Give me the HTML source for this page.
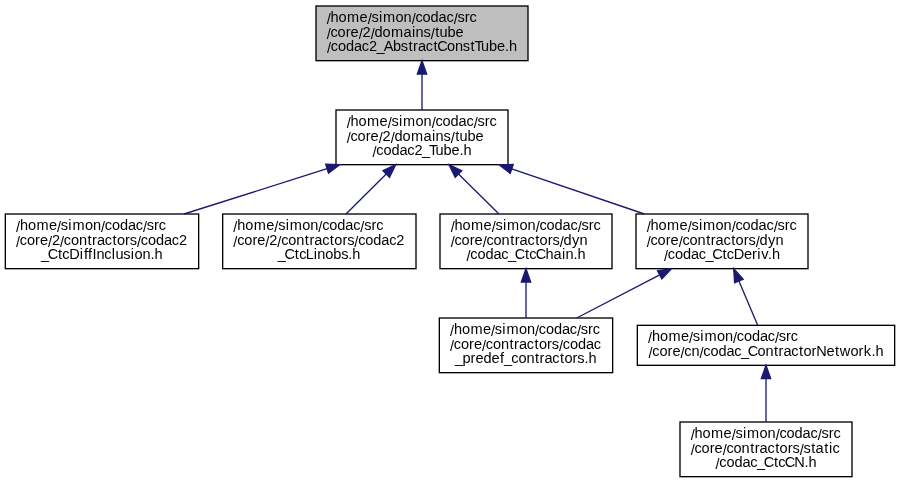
<!DOCTYPE html>
<html><head><meta charset="utf-8"><title>Include dependency graph</title>
<style>
html,body{margin:0;padding:0;background:#ffffff;}
body{width:900px;height:483px;overflow:hidden;font-family:"Liberation Sans",sans-serif;}
svg{display:block;}
</style></head><body>
<svg width="900" height="483" viewBox="0 0 900 483">
<rect x="0" y="0" width="900" height="483" fill="#ffffff"/>
<g stroke="#000000" stroke-width="1.3333">
<rect x="316.00" y="6.00" width="212.00" height="54.67" fill="#bfbfbf"/>
<rect x="336.00" y="110.00" width="172.00" height="54.67" fill="#ffffff"/>
<rect x="5.33" y="214.00" width="193.33" height="54.67" fill="#ffffff"/>
<rect x="222.67" y="214.00" width="193.33" height="54.67" fill="#ffffff"/>
<rect x="440.00" y="214.00" width="172.00" height="54.67" fill="#ffffff"/>
<rect x="636.00" y="214.00" width="172.00" height="54.67" fill="#ffffff"/>
<rect x="439.33" y="318.00" width="173.33" height="54.67" fill="#ffffff"/>
<rect x="637.33" y="325.33" width="257.33" height="40.00" fill="#ffffff"/>
<rect x="680.00" y="422.00" width="172.00" height="54.67" fill="#ffffff"/>
</g>
<g stroke="#191970" stroke-width="1.3333" fill="#191970">
<path fill="none" d="M422.00,110.00L422.00,74.00"/>
<polygon points="422.00,60.67 417.33,74.00 426.67,74.00"/>
<path fill="none" d="M184.00,214.00L327.09,168.69"/>
<polygon points="339.80,164.67 325.68,164.25 328.50,173.14"/>
<path fill="none" d="M346.00,214.00L386.24,174.06"/>
<polygon points="395.70,164.67 382.95,170.75 389.52,177.37"/>
<path fill="none" d="M499.00,214.00L458.49,174.03"/>
<polygon points="449.00,164.67 455.21,177.36 461.77,170.71"/>
<path fill="none" d="M644.40,214.00L511.73,168.96"/>
<polygon points="499.10,164.67 510.23,173.38 513.23,164.54"/>
<path fill="none" d="M526.00,318.00L526.00,282.00"/>
<polygon points="526.00,268.67 521.33,282.00 530.67,282.00"/>
<path fill="none" d="M576.70,318.00L659.67,274.82"/>
<polygon points="671.50,268.67 657.52,270.68 661.83,278.96"/>
<path fill="none" d="M757.70,325.33L738.90,280.95"/>
<polygon points="733.70,268.67 734.60,282.77 743.20,279.13"/>
<path fill="none" d="M766.00,422.00L766.00,378.66"/>
<polygon points="766.00,365.33 761.33,378.66 770.67,378.66"/>
</g>
<g font-family="'Liberation Sans', sans-serif" font-size="14.0" fill="#000000" opacity="0.999">
<text transform="translate(326.67,22.00) scale(1.04,1)" x="-0.02 3.80 11.49 19.65 31.68 39.40 43.13 50.37 54.27 66.30 73.99 81.71 85.44 92.26 99.95 107.65 115.25 122.09 125.83 132.77 137.37" y="2 0 0 0 0 2 0 0 0 0 0 2 0 0 0 0 0 2 0 0 0">/home/simon/codac/src</text>
<text transform="translate(326.67,36.67) scale(1.04,1)" x="-0.02 3.71 10.53 18.34 23.03 30.75 34.57 42.28 46.11 53.80 61.96 73.99 82.10 85.53 93.13 99.98 104.30 108.61 116.30 123.99" y="2 0 0 0 0 2 0 2 0 0 0 0 0 0 0 2 0 0 0 0">/core/2/domains/tube</text>
<text transform="translate(327.00,51.33) scale(1.04,1)" x="-0.02 3.71 10.53 18.22 25.92 33.52 40.34 47.55 54.47 63.42 71.02 78.34 82.77 87.45 95.06 102.38 106.00 115.34 123.03 130.63 137.96 141.88 148.03 155.72 163.42 171.13 174.95" y="2 0 0 0 0 0 0 0 0 0 0 0 0 0 0 0 0 0 0 0 0 0 0 0 0 0 0">/codac2_AbstractConstTube.h</text>
<text transform="translate(346.67,126.00) scale(1.04,1)" x="-0.02 3.80 11.49 19.65 31.68 39.40 43.13 50.37 54.27 66.30 73.99 81.71 85.44 92.26 99.95 107.65 115.25 122.09 125.83 132.77 137.37" y="2 0 0 0 0 2 0 0 0 0 0 2 0 0 0 0 0 2 0 0 0">/home/simon/codac/src</text>
<text transform="translate(346.67,140.67) scale(1.04,1)" x="-0.02 3.71 10.53 18.34 23.03 30.75 34.57 42.28 46.11 53.80 61.96 73.99 82.10 85.53 93.13 99.98 104.30 108.61 116.30 123.99" y="2 0 0 0 0 2 0 2 0 0 0 0 0 0 0 2 0 0 0 0">/core/2/domains/tube</text>
<text transform="translate(372.50,155.33) scale(1.04,1)" x="-0.02 3.71 10.53 18.22 25.92 33.52 40.34 47.55 54.38 60.53 68.22 75.92 83.63 87.45" y="2 0 0 0 0 0 0 0 0 0 0 0 0 0">/codac2_Tube.h</text>
<text transform="translate(16.00,230.00) scale(1.04,1)" x="-0.02 3.80 11.49 19.65 31.68 39.40 43.13 50.37 54.27 66.30 73.99 81.71 85.44 92.26 99.95 107.65 115.25 122.09 125.83 132.77 137.37" y="2 0 0 0 0 2 0 0 0 0 0 2 0 0 0 0 0 2 0 0 0">/home/simon/codac/src</text>
<text transform="translate(16.00,244.67) scale(1.04,1)" x="-0.02 3.71 10.53 18.34 23.03 30.75 34.57 42.28 46.02 52.84 60.53 68.73 73.15 77.84 85.44 92.77 97.07 104.88 109.48 116.32 120.06 126.88 134.57 142.26 149.87 156.68" y="2 0 0 0 0 2 0 2 0 0 0 0 0 0 0 0 0 0 0 2 0 0 0 0 0 0">/core/2/contractors/codac2</text>
<text transform="translate(41.50,259.33) scale(1.04,1)" x="-0.53 6.00 15.84 20.06 26.68 36.91 40.84 44.69 49.02 52.84 60.44 67.68 71.11 78.71 85.95 89.38 97.07 104.78 108.61" y="0 0 0 0 0 0 0 0 0 0 0 0 0 0 0 0 0 0 0">_CtcDiffInclusion.h</text>
<text transform="translate(233.33,230.00) scale(1.04,1)" x="-0.02 3.80 11.49 19.65 31.68 39.40 43.13 50.37 54.27 66.30 73.99 81.71 85.44 92.26 99.95 107.65 115.25 122.09 125.83 132.77 137.37" y="2 0 0 0 0 2 0 0 0 0 0 2 0 0 0 0 0 2 0 0 0">/home/simon/codac/src</text>
<text transform="translate(233.33,244.67) scale(1.04,1)" x="-0.02 3.71 10.53 18.34 23.03 30.75 34.57 42.28 46.02 52.84 60.53 68.73 73.15 77.84 85.44 92.77 97.07 104.88 109.48 116.32 120.06 126.88 134.57 142.26 149.87 156.68" y="2 0 0 0 0 2 0 2 0 0 0 0 0 0 0 0 0 0 0 2 0 0 0 0 0 0">/core/2/contractors/codac2</text>
<text transform="translate(278.33,259.33) scale(1.04,1)" x="-0.53 6.00 15.84 20.06 26.40 34.02 37.45 45.15 52.84 60.44 67.28 71.11" y="0 0 0 0 0 0 0 0 0 0 0 0">_CtcLinobs.h</text>
<text transform="translate(450.67,230.00) scale(1.04,1)" x="-0.02 3.80 11.49 19.65 31.68 39.40 43.13 50.37 54.27 66.30 73.99 81.71 85.44 92.26 99.95 107.65 115.25 122.09 125.83 132.77 137.37" y="2 0 0 0 0 2 0 0 0 0 0 2 0 0 0 0 0 2 0 0 0">/home/simon/codac/src</text>
<text transform="translate(450.67,244.67) scale(1.04,1)" x="-0.02 3.71 10.53 18.34 23.03 30.75 34.48 41.30 48.99 57.19 61.61 66.30 73.90 81.23 85.53 93.34 97.94 104.78 108.61 116.69 123.99" y="2 0 0 0 0 2 0 0 0 0 0 0 0 0 0 0 0 2 0 0 0">/core/contractors/dyn</text>
<text transform="translate(466.50,259.33) scale(1.04,1)" x="-0.02 3.71 10.53 18.22 25.92 33.52 39.86 46.39 56.23 60.44 66.58 75.92 83.61 91.72 95.15 102.86 106.68" y="2 0 0 0 0 0 0 0 0 0 0 0 0 0 0 0 0">/codac_CtcChain.h</text>
<text transform="translate(646.67,230.00) scale(1.04,1)" x="-0.02 3.80 11.49 19.65 31.68 39.40 43.13 50.37 54.27 66.30 73.99 81.71 85.44 92.26 99.95 107.65 115.25 122.09 125.83 132.77 137.37" y="2 0 0 0 0 2 0 0 0 0 0 2 0 0 0 0 0 2 0 0 0">/home/simon/codac/src</text>
<text transform="translate(646.67,244.67) scale(1.04,1)" x="-0.02 3.71 10.53 18.34 23.03 30.75 34.48 41.30 48.99 57.19 61.61 66.30 73.90 81.23 85.53 93.34 97.94 104.78 108.61 116.69 123.99" y="2 0 0 0 0 2 0 0 0 0 0 0 0 0 0 0 0 2 0 0 0">/core/contractors/dyn</text>
<text transform="translate(664.00,259.33) scale(1.04,1)" x="-0.02 3.71 10.53 18.22 25.92 33.52 39.86 46.39 56.23 60.44 67.06 76.88 84.69 89.79 93.62 99.98 103.80" y="2 0 0 0 0 0 0 0 0 0 0 0 0 0 0 0 0">/codac_CtcDeriv.h</text>
<text transform="translate(450.00,334.00) scale(1.04,1)" x="-0.02 3.80 11.49 19.65 31.68 39.40 43.13 50.37 54.27 66.30 73.99 81.71 85.44 92.26 99.95 107.65 115.25 122.09 125.83 132.77 137.37" y="2 0 0 0 0 2 0 0 0 0 0 2 0 0 0 0 0 2 0 0 0">/home/simon/codac/src</text>
<text transform="translate(450.00,348.67) scale(1.04,1)" x="-0.02 3.71 10.53 18.34 23.03 30.75 34.48 41.30 48.99 57.19 61.61 66.30 73.90 81.23 85.53 93.34 97.94 104.78 108.52 115.34 123.03 130.72 138.33" y="2 0 0 0 0 2 0 0 0 0 0 0 0 0 0 0 0 2 0 0 0 0 0">/core/contractors/codac</text>
<text transform="translate(455.50,363.33) scale(1.04,1)" x="-0.53 6.68 14.50 19.18 26.88 34.57 42.77 46.59 53.71 60.53 68.22 76.42 80.84 85.53 93.13 100.46 104.76 112.57 117.17 124.02 127.84" y="0 0 0 0 0 0 0 0 0 0 0 0 0 0 0 0 0 0 0 0 0">_predef_contractors.h</text>
<text transform="translate(648.00,341.33) scale(1.04,1)" x="-0.02 3.80 11.49 19.65 31.68 39.40 43.13 50.37 54.27 66.30 73.99 81.71 85.44 92.26 99.95 107.65 115.25 122.09 125.83 132.77 137.37" y="2 0 0 0 0 2 0 0 0 0 0 2 0 0 0 0 0 2 0 0 0">/home/simon/codac/src</text>
<text transform="translate(648.50,356.00) scale(1.04,1)" x="-0.02 3.71 10.53 18.34 23.03 30.75 34.48 41.30 49.02 52.75 59.57 67.26 74.95 82.56 88.90 95.43 104.76 112.45 120.65 125.07 129.76 137.37 144.69 148.99 156.80 161.29 171.11 179.30 183.89 194.18 202.00 207.08 214.40 218.22" y="2 0 0 0 0 2 0 0 2 0 0 0 0 0 0 0 0 0 0 0 0 0 0 0 0 0 0 0 0 0 0 0 0 0">/core/cn/codac_ContractorNetwork.h</text>
<text transform="translate(690.67,438.00) scale(1.04,1)" x="-0.02 3.80 11.49 19.65 31.68 39.40 43.13 50.37 54.27 66.30 73.99 81.71 85.44 92.26 99.95 107.65 115.25 122.09 125.83 132.77 137.37" y="2 0 0 0 0 2 0 0 0 0 0 2 0 0 0 0 0 2 0 0 0">/home/simon/codac/src</text>
<text transform="translate(690.67,452.67) scale(1.04,1)" x="-0.02 3.71 10.53 18.34 23.03 30.75 34.48 41.30 48.99 57.19 61.61 66.30 73.90 81.23 85.53 93.34 97.94 104.78 108.52 115.84 120.15 128.34 133.06 136.40" y="2 0 0 0 0 2 0 0 0 0 0 0 0 0 0 0 0 2 0 0 0 0 0 0">/core/contractors/static</text>
<text transform="translate(715.50,467.33) scale(1.04,1)" x="-0.02 3.71 10.53 18.22 25.92 33.52 39.86 46.39 56.23 60.44 66.58 75.72 85.55 89.38" y="2 0 0 0 0 0 0 0 0 0 0 0 0 0">/codac_CtcCN.h</text>
</g>
</svg>
</body></html>
